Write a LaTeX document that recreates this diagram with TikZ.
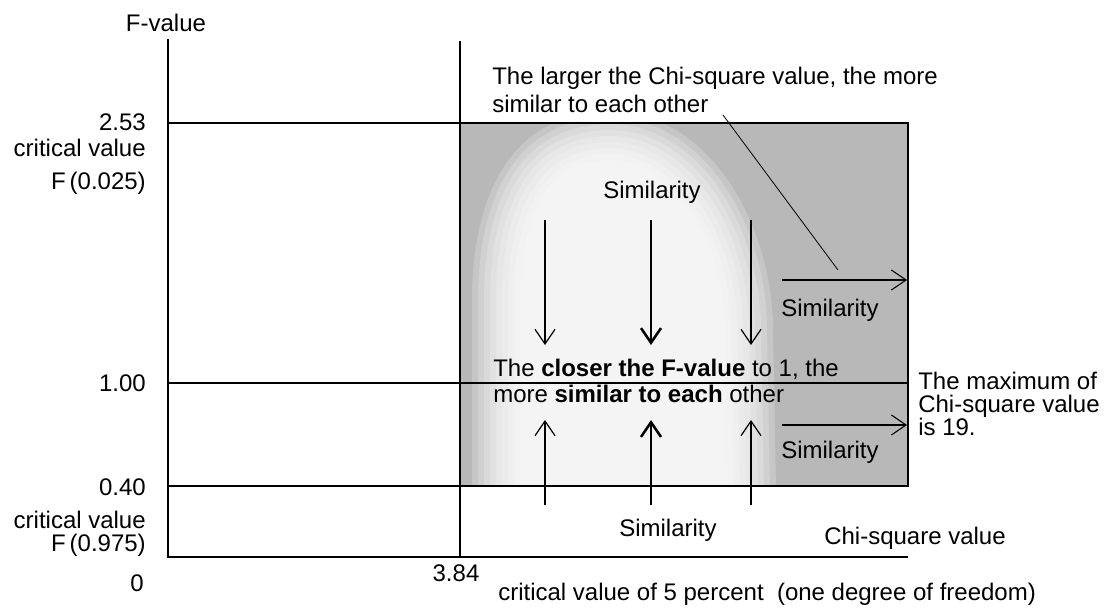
\documentclass[tikz,border=0pt]{standalone}
\usepackage{fontspec}
\setmainfont{Liberation Sans}
\usetikzlibrary{arrows.meta, positioning}

\begin{document}
\begin{tikzpicture}[x=0.75pt, y=-0.75pt,
  every node/.style={font=\fontsize{18}{21}\selectfont, inner sep=0pt},
  axis/.style={line width=1.1pt},
  sim/.style={-{Straight Barb[length=11pt,width=15pt]}, line width=0.9pt},
  simbold/.style={sim, line width=1.9pt},
  lbl/.style={anchor=east}]
\useasboundingbox (0,0) rectangle (1106,608);

% shaded area, lighter in the middle
\fill[black!28] (460,123) rectangle (908,486);
\begin{scope}
  \clip (460,123) rectangle (908,486);
  \foreach \d in {48,42,...,0}
    \fill[white, opacity=0.2] (520-\d,490) -- (520-\d,300)
      .. controls (520-\d,210) and (550-\d,160-\d) .. (610,160-\d)
      .. controls (665+\d,160-\d) and (725+\d,230) .. (725+\d,330)
      -- (728+\d,490) -- cycle;
\end{scope}

% axes and levels
\draw[axis] (168,39) -- (168,557) -- (908,557);
\draw[axis] (460,41) -- (460,557);
\draw[line width=0.9pt] (168,123) -- (908,123) -- (908,486) -- (168,486);
\draw[line width=0.9pt] (168,383) -- (908,383);

% axis labels
\node (fval) at (166,23) {F-value};
\node[lbl] (f253) at (146,122) {2.53};
\node[lbl] (crit1) at (146,148) {critical value};
\node[lbl] (f025) at (146,183) {F\hspace{3pt}(0.025)};
\node[lbl] (f100) at (146,383) {1.00};
\node[lbl] (f040) at (146,487) {0.40};
\node[lbl] (crit2) at (146,520) {critical value};
\node[lbl] (f975) at (146,545) {F\hspace{3pt}(0.975)};
\node[lbl] (zero) at (144,583) {0};
\node (c384) at (456,573) {3.84};
\node[anchor=west] (c5) at (498,594) {critical value of 5 percent\ \ (one degree of freedom)};
\node[anchor=west] (chisq) at (824,538) {Chi-square value};

% notes
\node[anchor=west, align=left] (larger) at (492,90)
  {The larger the Chi-square value, the more\\similar to each other};
\node[anchor=west, align=left, font=\fontsize{18}{20}\selectfont] (closer) at (493,381)
  {The \textbf{closer the F-value} to 1, the\\more \textbf{similar to each} other};
\node[anchor=west, align=left, font=\fontsize{18}{17}\selectfont] (maxchi) at (918,404)
  {The maximum of\\Chi-square value\\is 19.};

\node (simtop) at (652,192) {Similarity};
\node (simup) at (830,310) {Similarity};
\node (simlow) at (830,452) {Similarity};
\node (simbot) at (668,530) {Similarity};

% similarity arrows
\foreach \x/\s in {545/sim, 651/simbold, 751/sim} {
  \coordinate (dn\x) at (\x,220);
  \coordinate (dt\x) at (\x,345);
  \coordinate (up\x) at (\x,505);
  \coordinate (ut\x) at (\x,420);
  \draw[\s] (dn\x) -- (dt\x);
  \draw[\s] (up\x) -- (ut\x);
}
\coordinate (ra) at (782,280);
\coordinate (rb) at (907,280);
\coordinate (rc) at (782,425);
\coordinate (rd) at (907,425);
\draw[sim, line width=0.8pt] (ra) -- (rb);
\draw[sim, line width=0.8pt] (rc) -- (rd);

% leader from the note
\coordinate (leadtop) at (723,115);
\coordinate (leadend) at (838,270);
\draw[line width=0.6pt] (leadtop) -- (leadend);
\end{tikzpicture}
\end{document}
